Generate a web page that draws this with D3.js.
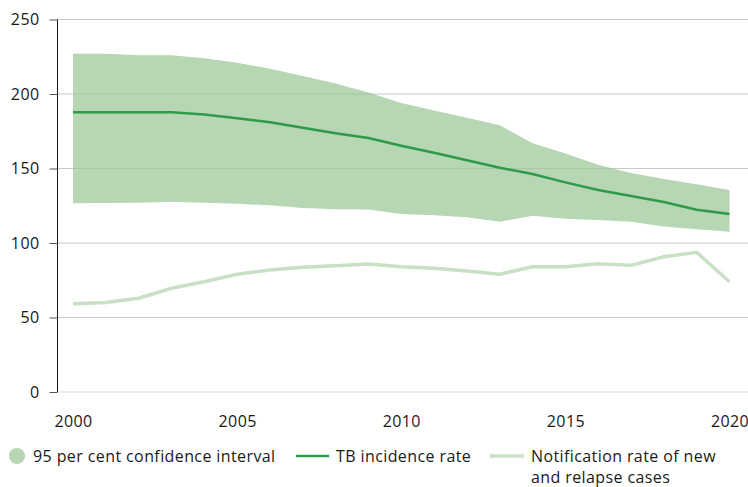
<!DOCTYPE html>
<html><head><meta charset="utf-8">
<script src="https://cdn.jsdelivr.net/npm/d3@7"></script>
<style>body{margin:0;background:#fff}svg{display:block;font-family:"Open Sans",sans-serif}</style>
</head><body>
<script>
const years = [2000,2001,2002,2003,2004,2005,2006,2007,2008,2009,2010,2011,2012,2013,2014,2015,2016,2017,2018,2019,2020];
const ciUpper = [227,227,226,226,224,221,217,212,207,201,194,189,184,179,167,160,152.5,147,143,139.5,135.6];
const ciLower = [126.6,126.8,127,127.7,127,126.3,125.3,123.5,122.7,122.5,119.5,118.6,117.2,114.3,118.3,116.3,115.4,114.3,111,109.2,107.6];
const incidence = [187.7,187.8,187.8,187.8,186.2,183.7,181,177.4,173.6,170.5,165.3,160.6,155.5,150.5,146.3,140.7,135.6,131.5,127.5,122.3,119.5];
const notification = [59.3,60,62.9,69.6,74,79,81.9,83.7,84.8,85.9,84.1,83,81.2,79,84.1,84.1,86.1,85,90.8,93.7,74];
const yTicks = [0,50,100,150,200,250];
const xTicks = [2000,2005,2010,2015,2020];
const legendLabels = ["95 per cent confidence interval","TB incidence rate",["Notification rate of new","and relapse cases"]];

const W=748,H=487;
const svg=d3.select("body").append("svg").attr("width",W).attr("height",H);
const x=d3.scaleLinear().domain([2000,2020]).range([73,729.5]);
const y=d3.scaleLinear().domain([0,250]).range([392,19.5]);
const cBand="#b6d6b4", cInc="#2e9b48", cNot="#c9e0c6";
const FS=16, LS="0.4px";

// gridlines
svg.append("g").selectAll("line").data(yTicks).join("line")
  .attr("x1",57).attr("x2",W).attr("y1",d=>y(d)).attr("y2",d=>y(d))
  .attr("stroke","#d9d9d9").attr("stroke-width",1);

// band
const area=d3.area().x((d,i)=>x(years[i])).y0((d,i)=>y(ciLower[i])).y1((d,i)=>y(ciUpper[i]));
svg.append("path").datum(years).attr("d",area).attr("fill",cBand);

// faint gridlines over band
svg.append("g").selectAll("line").data(yTicks.filter(d=>d>0)).join("line")
  .attr("x1",57).attr("x2",W).attr("y1",d=>y(d)).attr("y2",d=>y(d))
  .attr("stroke","#000").attr("stroke-opacity",0.07).attr("stroke-width",1);

const line=d3.line().x((d,i)=>x(years[i])).y(d=>y(d));
svg.append("path").datum(notification).attr("d",line).attr("fill","none").attr("stroke",cNot).attr("stroke-width",3.5).attr("stroke-linejoin","round");
svg.append("path").datum(incidence).attr("d",line).attr("fill","none").attr("stroke",cInc).attr("stroke-width",2.5).attr("stroke-linejoin","round");

// y axis
const yAxis=d3.axisLeft(y).tickValues(yTicks).tickSize(8).tickPadding(10);
const ya=svg.append("g").attr("transform","translate(57.5,0)").call(yAxis);
ya.select(".domain").attr("stroke","#1a1a1a").attr("d","M0,"+y(250)+"V"+y(0));
ya.selectAll(".tick line").attr("stroke","#555");
ya.selectAll("text").attr("font-size",FS).attr("letter-spacing",LS).attr("fill","#1a1a1a").attr("font-family","Open Sans, sans-serif");

// x axis labels
const xAxis=d3.axisBottom(x).tickValues(xTicks).tickFormat(d3.format("d")).tickSize(0).tickPadding(24);
const xa=svg.append("g").attr("transform","translate(0,392)").call(xAxis);
xa.select(".domain").remove();
xa.selectAll("text").attr("font-size",FS).attr("letter-spacing",LS).attr("fill","#1a1a1a").attr("font-family","Open Sans, sans-serif");

// legend
const lg=svg.append("g").attr("font-size",FS).attr("letter-spacing",LS).attr("fill","#1a1a1a");
lg.append("circle").attr("cx",17).attr("cy",456).attr("r",8).attr("fill",cBand);
lg.append("text").attr("x",33).attr("y",461.5).text(legendLabels[0]);
lg.append("line").attr("x1",296).attr("x2",329).attr("y1",456).attr("y2",456).attr("stroke",cInc).attr("stroke-width",2.5);
lg.append("text").attr("x",336).attr("y",461.5).text(legendLabels[1]);
lg.append("line").attr("x1",490).attr("x2",524).attr("y1",456).attr("y2",456).attr("stroke",cNot).attr("stroke-width",3.5);
const t3=lg.append("text").attr("x",531).attr("y",461.5);
t3.append("tspan").attr("x",531).text(legendLabels[2][0]);
t3.append("tspan").attr("x",531).attr("dy",21).text(legendLabels[2][1]);
</script>
</body></html>
